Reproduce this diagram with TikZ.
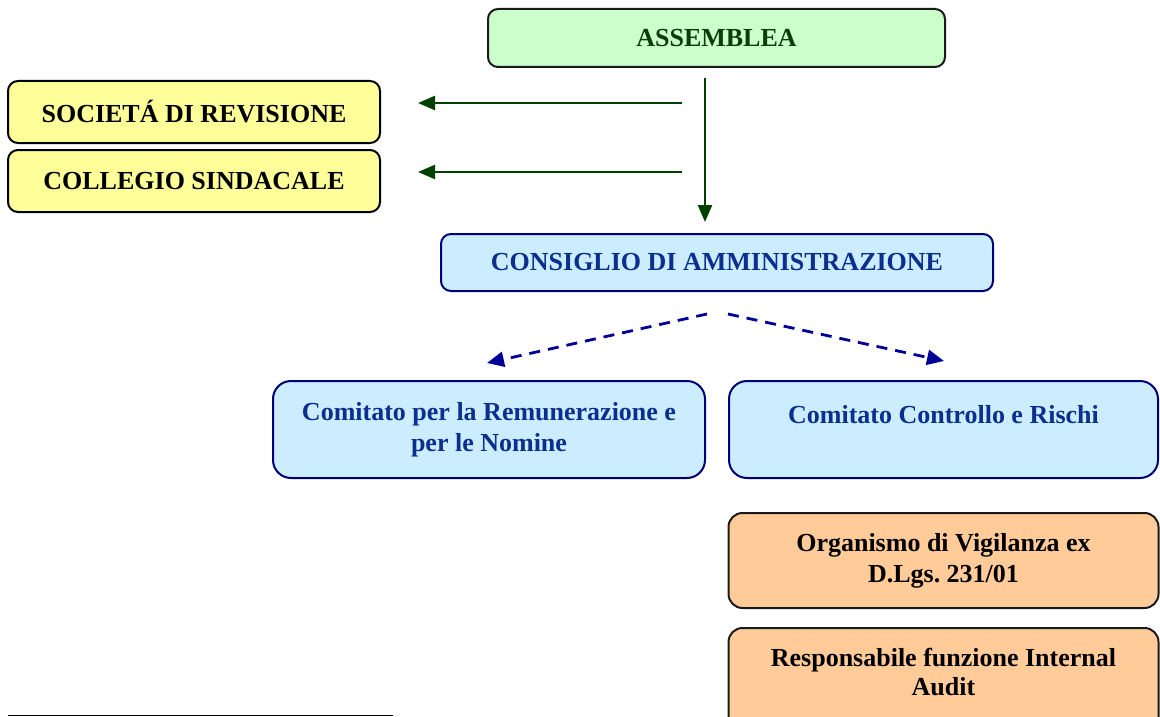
\documentclass[tikz,border=0pt]{standalone}
\usepackage{fontspec}
\setmainfont{Liberation Serif}
\usetikzlibrary{arrows.meta}
\frenchspacing
\definecolor{gfill}{HTML}{CCFFCC}
\definecolor{gtext}{HTML}{0B3D0B}
\definecolor{garrow}{HTML}{004000}
\definecolor{yfill}{HTML}{FFFF99}
\definecolor{bfill}{HTML}{CCECFF}
\definecolor{bdraw}{HTML}{00007A}
\definecolor{btext}{HTML}{0A2F8F}
\definecolor{ofill}{HTML}{FFCC99}
\definecolor{darrow}{HTML}{000099}
\definecolor{kdraw}{HTML}{1A1A1A}
\tikzset{
  boxbase/.style={rectangle, rounded corners=10pt, line width=2pt, inner sep=0pt,
    align=center, font=\fontsize{26}{31}\selectfont\bfseries},
  greenbox/.style={boxbase, draw=kdraw, fill=gfill, text=gtext},
  yellowbox/.style={boxbase, draw=black, fill=yfill, text=black},
  bluebox/.style={boxbase, draw=bdraw, fill=bfill, text=btext},
  combox/.style={bluebox, rounded corners=18pt},
  orangebox/.style={boxbase, draw=kdraw, fill=ofill, text=black, rounded corners=14pt},
  txtonly/.style={inner sep=0pt, align=center, font=\fontsize{26}{29}\selectfont\bfseries},
  grarrow/.style={draw=garrow, line width=2.4pt, -{Triangle[length=17pt,width=14pt]}},
  dasharrow/.style={draw=darrow, line width=2.8pt, dash pattern=on 11pt off 8pt,
    -{Triangle[length=17pt,width=15pt]}},
}
\begin{document}
\begin{tikzpicture}[x=1pt,y=-1pt]
\useasboundingbox (0,0) rectangle (1160,717);
% boxes
\node[greenbox, minimum width=457pt, minimum height=58pt] (ass) at (716.5,38) {ASSEMBLEA};
\node[yellowbox, minimum width=372pt, minimum height=62pt] (soc) at (194,112) {SOCIET\'A DI REVISIONE};
\node[yellowbox, minimum width=372pt, minimum height=62pt] (col) at (194,181) {COLLEGIO SINDACALE};
\node[bluebox, minimum width=552pt, minimum height=57pt] (cda) at (717,262.5) {CONSIGLIO DI AMMINISTRAZIONE};
\node[combox, minimum width=432pt, minimum height=97pt] (crn) at (489,429.5) {Comitato per la Remunerazione e\\per le Nomine};
\node[combox, minimum width=429pt, minimum height=97pt] (ccr) at (943.5,429.5) {Comitato Controllo e Rischi\\\mbox{}};
\node[orangebox, minimum width=430pt, minimum height=95pt] (odv) at (943.5,560.5) {Organismo di Vigilanza ex\\D.Lgs. 231/01};
\node[orangebox, minimum width=430pt, minimum height=110pt] (resp) at (943.5,683) {};
\node[txtonly, anchor=base] (resptxt) at (943.5,695) {Responsabile funzione Internal\\Audit};
% connectors
\coordinate (vtop) at (705,78);
\coordinate (vbot) at (705,222);
\coordinate (h1s) at (682,103);
\coordinate (h1e) at (418,103);
\coordinate (h2s) at (682,172);
\coordinate (h2e) at (418,172);
\draw[grarrow] (vtop) -- (vbot);
\draw[grarrow] (h1s) -- (h1e);
\draw[grarrow] (h2s) -- (h2e);
\coordinate (dls) at (707,314);
\coordinate (dle) at (487,363);
\coordinate (drs) at (728,314);
\coordinate (dre) at (944,361);
\draw[dasharrow] (dls) -- (dle);
\draw[dasharrow] (drs) -- (dre);
% footnote rule
\coordinate (fl) at (8,715.5);
\coordinate (fr) at (393,715.5);
\draw[line width=1.2pt] (fl) -- (fr);
\end{tikzpicture}
\end{document}
